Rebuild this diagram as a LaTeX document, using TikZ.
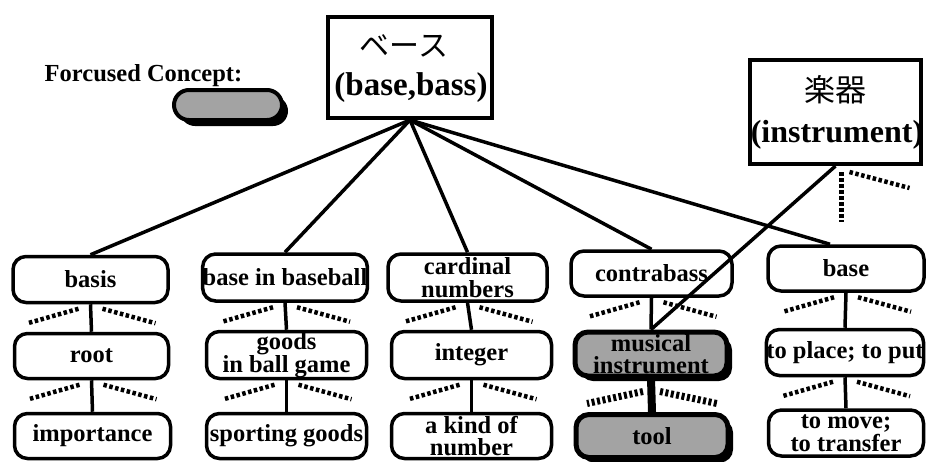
\documentclass[tikz,border=0pt]{standalone}
\usepackage{fontspec}
\setmainfont{Liberation Serif}
\newfontfamily\jpfont{Noto Sans CJK JP}
\usetikzlibrary{calc,shadows}
\definecolor{focusgray}{gray}{0.64}

\begin{document}
\begin{tikzpicture}[x=1pt,y=-1pt,
  every node/.style={font=\bfseries\fontsize{24.5}{22.5}\selectfont, align=center, inner sep=0pt},
  sense/.style={draw, line width=3.5pt, rounded corners=13pt, fill=white},
  focus/.style={draw, line width=5pt, rounded corners=13pt, fill=focusgray,
    drop shadow={shadow xshift=5pt, shadow yshift=-5pt, fill=black, opacity=1}},
  wordbox/.style={draw, line width=4pt, fill=white},
  link/.style={line width=3.5pt},
  fanline/.style={line width=4.5pt, dash pattern=on 3.5pt off 2.5pt},
  focusfan/.style={line width=7pt, dash pattern=on 3pt off 2.5pt},
]
\useasboundingbox (0,0) rectangle (926,461);

% legend
\node (legendtext) at (143.5,76) {Forcused Concept:};
\node[draw, line width=4pt, rounded corners=15pt, fill=focusgray,
  minimum width=108pt, minimum height=30pt,
  drop shadow={shadow xshift=6pt, shadow yshift=-6pt, fill=black, opacity=1}] (legendpill) at (228,105) {};

% headword boxes
\node[wordbox, minimum width=164pt, minimum height=101pt] (top) at (410,67.5) {};
\node[font=\jpfont\fontsize{30}{30}\selectfont] (topjp) at (404,46) {ベース};
\node[font=\bfseries\fontsize{33}{33}\selectfont] (topen) at (411,88) {(base,bass)};

\node[wordbox, minimum width=171pt, minimum height=104pt] (inst) at (835.5,112) {};
\node[font=\jpfont\fontsize{31}{31}\selectfont] (instjp) at (835,90) {楽器};
\node[font=\bfseries\fontsize{32}{32}\selectfont] (insten) at (837,135) {(instrument)};

% first-level senses
\node[sense, minimum width=155pt, minimum height=46pt] (b1) at (90.5,279.5) {basis};
\node[sense, minimum width=158pt, minimum height=47pt] (b2) at (285,277.5) {base in baseball};
\node[sense, minimum width=159pt, minimum height=47pt] (b3) at (467.5,277.5) {cardinal\\numbers};
\node[sense, minimum width=161pt, minimum height=45pt] (b4) at (651.5,273.5) {contrabass};
\node[sense, minimum width=156pt, minimum height=45pt] (b5) at (846,268.5) {base};

% second-level senses
\node[sense, minimum width=154pt, minimum height=45pt] (m1) at (91.5,356) {root};
\node[sense, minimum width=160pt, minimum height=47pt] (m2) at (286.5,355) {goods\\in ball game};
\node[sense, minimum width=160pt, minimum height=47pt] (m3) at (471.5,355) {integer};
\node[focus, minimum width=152pt, minimum height=44pt] (m4) at (651,354) {musical\\instrument};
\node[sense, minimum width=157pt, minimum height=46pt] (m5) at (845,352.5) {to place; to put};

% third-level senses
\node[sense, minimum width=156pt, minimum height=45pt] (l1) at (92.5,436) {importance};
\node[sense, minimum width=160pt, minimum height=45pt] (l2) at (286.5,436) {sporting goods};
\node[sense, minimum width=160pt, minimum height=45pt] (l3) at (471.5,436) {a kind of\\number};
\node[focus, minimum width=152pt, minimum height=43pt] (l4) at (652,436) {tool};
\node[sense, minimum width=155pt, minimum height=46pt] (l5) at (846,433) {to move;\\to transfer};

% headword to senses
\draw[link] (top.south) -- (b1.north);
\draw[link] (top.south) -- (b2.north);
\draw[link] (top.south) -- (b3.north);
\draw[link] (top.south) -- (b4.north);
\draw[link] (top.south) -- ($(b5.north)+(-16,0)$);

% sense chains
\foreach \u/\v in {b1/m1, b2/m2, b3/m3, b4/m4, b5/m5, m1/l1, m2/l2, m3/l3, m5/l5}
  \draw[link] (\u.south) -- (\v.north);
\draw[line width=8pt] (m4.south) -- (l4.north);

% fans of further branches
\foreach \n in {b1,b2,b3,b4,b5,m1,m2,m3,m5} {
  \draw[fanline] ($(\n.south)+(-12,4.5)$) -- ($(\n.south)+(-63,19)$);
  \draw[fanline] ($(\n.south)+(12,4.5)$) -- ($(\n.south)+(65,19)$);
}
\draw[focusfan] ($(m4.south)+(-8,13)$) -- ($(m4.south)+(-64,25)$);
\draw[focusfan] ($(m4.south)+(9,13)$) -- ($(m4.south)+(66,25)$);

% instrument links
\draw[link] (inst.south) -- (m4.north);
\draw[fanline] ($(inst.south)+(6,6)$) -- ($(inst.south)+(6,56)$);
\draw[fanline] ($(inst.south)+(14,6)$) -- ($(inst.south)+(74,22)$);
\end{tikzpicture}
\end{document}
